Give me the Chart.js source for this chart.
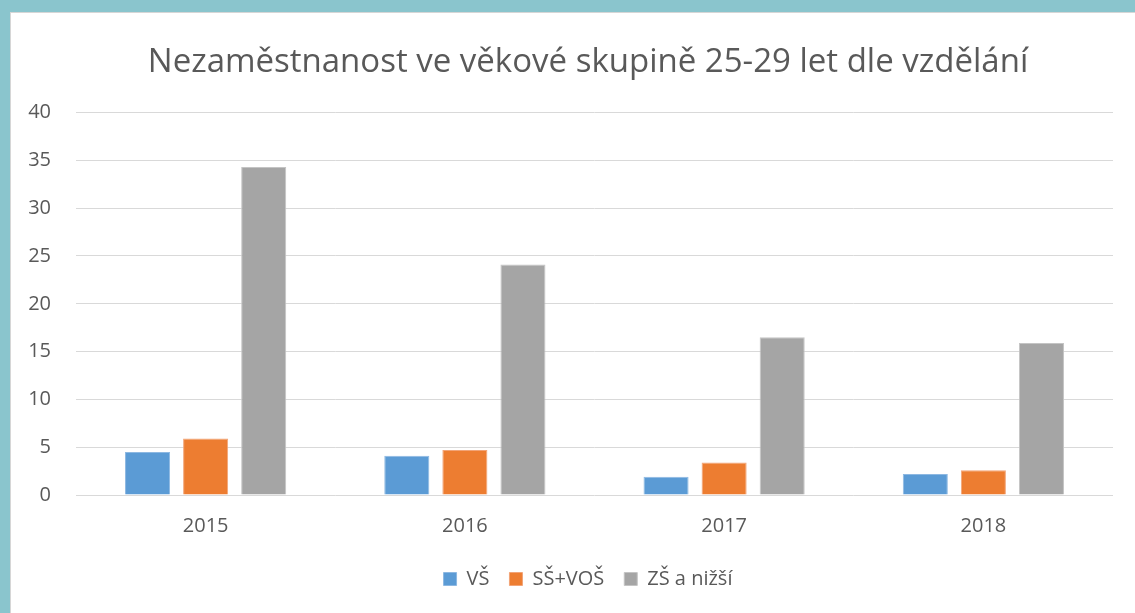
<!DOCTYPE html>
<html>
<head>
<meta charset="utf-8">
<script src="https://cdn.jsdelivr.net/npm/chart.js@4/dist/chart.umd.min.js"></script>
<style>
  html, body { margin: 0; padding: 0; }
  body { width: 1135px; height: 613px; background: #8AC5CD; position: relative; overflow: hidden; }
  #frame { position: absolute; left: 10px; top: 12px; width: 1125px; height: 601px; background: #ffffff; border-left: 1px solid #d6d6d6; border-top: 1px solid #d6d6d6; box-sizing: border-box; overflow: hidden; }
  #wrap { position: absolute; left: 0; top: 0; width: 1154px; height: 600px; }
</style>
</head>
<body>
<div id="frame"><div id="wrap"><canvas id="c"></canvas></div></div>
<script>
const categories = ["2015", "2016", "2017", "2018"];
const seriesNames = ["VŠ", "SŠ+VOŠ", "ZŠ a nižší"];
const vs = [4.5, 4.1, 1.9, 2.2];
const ssVos = [5.9, 4.7, 3.4, 2.6];
const zs = [34.3, 24.1, 16.5, 15.9];
const titleText = "Nezaměstnanost ve věkové skupině 25-29 let dle vzdělání";

const colors = ["#5B9BD5", "#ED7D31", "#A5A5A5"];
const borders = ["#8DB8E2", "#F2A477", "#C4C4C4"];
const values = [vs, ssVos, zs];
const FONT = "'Open Sans', Lato, sans-serif";

new Chart(document.getElementById('c'), {
  type: 'bar',
  data: {
    labels: categories,
    datasets: seriesNames.map((n, i) => ({
      label: n,
      data: values[i],
      backgroundColor: colors[i],
      borderColor: borders[i],
      borderWidth: 1,
      categoryPercentage: 0.672,
      barPercentage: 0.776
    }))
  },
  options: {
    responsive: true,
    maintainAspectRatio: false,
    animation: false,
    layout: { padding: { left: 0, right: 0, top: 0, bottom: 14 } },
    plugins: {
      title: {
        display: true,
        text: titleText,
        color: '#595959',
        font: { family: FONT, size: 33, weight: 'normal' },
        padding: { top: 30, bottom: 30 }
      },
      legend: {
        position: 'bottom',
        labels: {
          color: '#595959',
          font: { family: FONT, size: 20 },
          boxWidth: 13,
          boxHeight: 13,
          padding: 20
        }
      },
      tooltip: { enabled: false }
    },
    scales: {
      x: {
        grid: { display: false },
        border: { display: false },
        ticks: { color: '#595959', font: { family: FONT, size: 20 }, padding: 11 }
      },
      y: {
        min: 0,
        max: 40,
        ticks: { stepSize: 5, color: '#595959', font: { family: FONT, size: 20 }, padding: 25 },
        grid: { color: '#d9d9d9', lineWidth: 1, drawTicks: false },
        border: { display: false },
        afterFit: (s) => { s.width = 65; }
      },
      spacer: {
        type: 'linear',
        position: 'right',
        min: 0,
        max: 40,
        ticks: { display: false },
        grid: { display: false, drawTicks: false },
        border: { display: false },
        afterFit: (s) => { s.width = 52; }
      }
    }
  }
});
</script>
</body>
</html>
